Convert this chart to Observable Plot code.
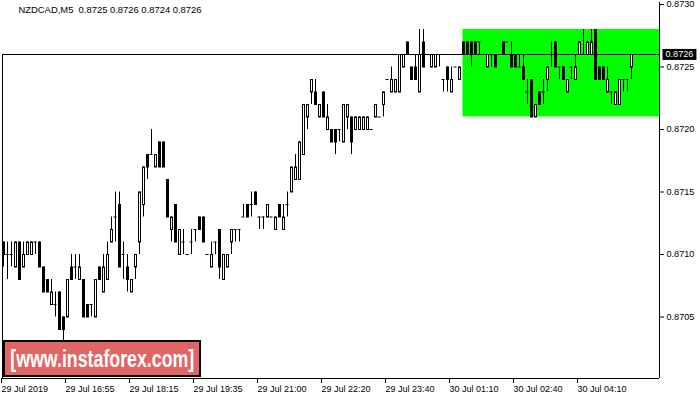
<!DOCTYPE html>
<html><head><meta charset="utf-8">
<script src="https://cdn.jsdelivr.net/npm/d3@7"></script>
<script src="https://cdn.jsdelivr.net/npm/@observablehq/plot@0.6"></script>
<style>
html,body{margin:0;padding:0;background:#fff;}
#wrap{position:relative;width:700px;height:400px;overflow:hidden;}
#chart svg{display:block;}
#wm{position:absolute;left:3px;top:340px;width:198px;height:37px;box-sizing:border-box;border:2px solid #000;background:#e06666;color:#fff;font:bold 24px "Liberation Sans",Arial,sans-serif;display:flex;align-items:center;justify-content:center;overflow:hidden;white-space:nowrap;}
#wm span{display:inline-block;transform:scaleX(0.74);}
</style></head><body>
<div id="wrap"><div id="chart"></div><div id="wm"><span>[www.instaforex.com]</span></div></div>
<script>
const symbol = "NZDCAD,M5";
const opens = [0.8711,0.8710,0.8710,0.8709,0.8711,0.8709,0.8710,0.8710,0.8711,0.8711,
0.8709,0.8708,0.8706,0.8706,0.8707,0.8705,0.8705,0.8709,0.8709,0.8708,
0.8708,0.8706,0.8706,0.8705,0.8709,0.8707,0.8708,0.8711,0.8713,0.8714,
0.8710,0.8709,0.8707,0.8709,0.8711,0.8714,0.8718,0.8718,0.8717,0.8719,
0.8719,0.8716,0.8712,0.8714,0.8710,0.8711,0.8710,0.8711,0.8712,0.8713,
0.8713,0.8710,0.8709,0.8711,0.8712,0.8708,0.8709,0.8711,0.8712,0.8712,
0.8713,0.8714,0.8714,0.8715,0.8713,0.8713,0.8713,0.8713,0.8712,0.8714,
0.8712,0.8714,0.8715,0.8716,0.8716,0.8718,0.8721,0.8723,0.8723,0.8721,
0.8723,0.8720,0.8720,0.8720,0.8720,0.8719,0.8721,0.8721,0.8720,0.8720,
0.8720,0.8720,0.8720,0.8721,0.8721,0.8722,0.8724,0.8723,0.8723,0.8723,
0.8725,0.8727,0.8725,0.8725,0.8723,0.8727,0.8726,0.8725,0.8725,0.8726,
0.8724,0.8725,0.8723,0.8725,0.8724,0.8727,0.8727,0.8727,0.8727,0.8727,
0.8726,0.8725,0.8726,0.8726,0.8726,0.8727,0.8727,0.8726,0.8726,0.8725,
0.8725,0.8723,0.8724,0.8721,0.8723,0.8723,0.8724,0.8726,0.8727,0.8725,
0.8725,0.8723,0.8725,0.8724,0.8726,0.8726,0.8726,0.8726,0.8728,0.8725,
0.8725,0.8723,0.8723,0.8722,0.8722,0.8724,0.8724,0.8725];
const highs = [0.8711,0.8711,0.8711,0.8711,0.8711,0.8711,0.8711,0.8711,0.8711,0.8711,
0.8709,0.8708,0.8708,0.8707,0.8707,0.8705,0.8708,0.8710,0.8710,0.8710,
0.8708,0.8706,0.8706,0.8708,0.8709,0.8710,0.8711,0.8713,0.8715,0.8715,
0.8711,0.8710,0.8708,0.8710,0.8715,0.8717,0.8718,0.8720,0.8718,0.8719,
0.8719,0.8716,0.8713,0.8714,0.8712,0.8712,0.8710,0.8712,0.8712,0.8713,
0.8713,0.8710,0.8711,0.8711,0.8712,0.8710,0.8710,0.8712,0.8712,0.8712,
0.8714,0.8714,0.8715,0.8715,0.8713,0.8713,0.8714,0.8713,0.8713,0.8714,
0.8714,0.8715,0.8717,0.8718,0.8719,0.8722,0.8722,0.8724,0.8724,0.8722,
0.8723,0.8722,0.8720,0.8720,0.8720,0.8722,0.8722,0.8721,0.8721,0.8721,
0.8721,0.8721,0.8720,0.8722,0.8721,0.8723,0.8724,0.8725,0.8724,0.8726,
0.8726,0.8727,0.8725,0.8726,0.8728,0.8728,0.8726,0.8726,0.8726,0.8726,
0.8724,0.8725,0.8725,0.8725,0.8725,0.8727,0.8727,0.8727,0.8727,0.8727,
0.8726,0.8726,0.8726,0.8726,0.8726,0.8727,0.8727,0.8727,0.8726,0.8726,
0.8726,0.8724,0.8724,0.8722,0.8723,0.8724,0.8725,0.8727,0.8727,0.8725,
0.8725,0.8724,0.8725,0.8726,0.8727,0.8728,0.8727,0.8728,0.8728,0.8725,
0.8725,0.8725,0.8723,0.8723,0.8724,0.8724,0.8724,0.8726];
const lows = [0.8709,0.8708,0.8709,0.8709,0.8708,0.8709,0.8710,0.8710,0.8710,0.8709,
0.8707,0.8707,0.8706,0.8705,0.8704,0.8703,0.8705,0.8708,0.8708,0.8708,
0.8705,0.8705,0.8705,0.8705,0.8708,0.8707,0.8708,0.8711,0.8711,0.8709,
0.8708,0.8707,0.8707,0.8708,0.8710,0.8713,0.8716,0.8718,0.8717,0.8717,
0.8717,0.8713,0.8711,0.8711,0.8710,0.8710,0.8710,0.8710,0.8711,0.8712,
0.8711,0.8710,0.8709,0.8710,0.8708,0.8708,0.8709,0.8710,0.8711,0.8711,
0.8713,0.8713,0.8713,0.8714,0.8712,0.8712,0.8713,0.8713,0.8712,0.8713,
0.8712,0.8713,0.8715,0.8716,0.8716,0.8718,0.8720,0.8722,0.8722,0.8721,
0.8721,0.8720,0.8719,0.8718,0.8719,0.8719,0.8720,0.8718,0.8720,0.8720,
0.8720,0.8720,0.8720,0.8721,0.8721,0.8721,0.8724,0.8723,0.8723,0.8723,
0.8725,0.8726,0.8724,0.8724,0.8723,0.8725,0.8726,0.8725,0.8725,0.8725,
0.8723,0.8723,0.8723,0.8725,0.8724,0.8726,0.8726,0.8725,0.8726,0.8726,
0.8726,0.8725,0.8725,0.8725,0.8726,0.8726,0.8727,0.8725,0.8725,0.8725,
0.8724,0.8722,0.8721,0.8721,0.8722,0.8722,0.8723,0.8725,0.8725,0.8724,
0.8724,0.8723,0.8724,0.8724,0.8726,0.8726,0.8726,0.8726,0.8724,0.8724,
0.8724,0.8723,0.8722,0.8722,0.8722,0.8723,0.8723,0.8724];
const closes = [0.8710,0.8710,0.8710,0.8711,0.8708,0.8710,0.8711,0.8711,0.8711,0.8709,
0.8707,0.8707,0.8707,0.8706,0.8704,0.8704,0.8708,0.8708,0.8709,0.8709,
0.8705,0.8705,0.8706,0.8708,0.8708,0.8709,0.8710,0.8712,0.8713,0.8709,
0.8710,0.8708,0.8708,0.8710,0.8715,0.8717,0.8717,0.8718,0.8718,0.8717,
0.8717,0.8713,0.8713,0.8711,0.8712,0.8711,0.8710,0.8711,0.8712,0.8712,
0.8711,0.8710,0.8710,0.8711,0.8709,0.8710,0.8710,0.8712,0.8712,0.8712,
0.8713,0.8713,0.8714,0.8714,0.8713,0.8713,0.8714,0.8713,0.8713,0.8713,
0.8713,0.8714,0.8717,0.8717,0.8719,0.8722,0.8722,0.8724,0.8722,0.8722,
0.8721,0.8721,0.8719,0.8719,0.8720,0.8722,0.8722,0.8719,0.8721,0.8721,
0.8721,0.8721,0.8720,0.8722,0.8721,0.8723,0.8724,0.8724,0.8724,0.8726,
0.8726,0.8726,0.8724,0.8724,0.8726,0.8725,0.8726,0.8726,0.8726,0.8726,
0.8724,0.8724,0.8724,0.8725,0.8725,0.8726,0.8726,0.8726,0.8726,0.8727,
0.8726,0.8726,0.8726,0.8725,0.8726,0.8726,0.8727,0.8725,0.8725,0.8725,
0.8724,0.8723,0.8721,0.8722,0.8722,0.8723,0.8725,0.8726,0.8725,0.8725,
0.8724,0.8724,0.8725,0.8725,0.8727,0.8726,0.8727,0.8727,0.8724,0.8724,
0.8724,0.8724,0.8723,0.8723,0.8724,0.8724,0.8724,0.8726];
const xTickIndex = [0,16,32,48,64,80,96,112,128,144];
const xTickLabels = ["29 Jul 2019","29 Jul 16:55","29 Jul 18:15","29 Jul 19:35","29 Jul 21:00","29 Jul 22:20","29 Jul 23:40","30 Jul 01:10","30 Jul 02:40","30 Jul 04:10"];
const yTicks = [0.8705,0.8710,0.8715,0.8720,0.8725,0.8730];
const zoneStart = 115;
const zoneLow = 0.8721;
const zoneHigh = 0.8728;
const xDomain = [-0.25, 164];
const yDomain = [0.870008, 0.873016];

const fmt = d3.format(".4f");
const candles = opens.map((o, i) => ({i, o, h: highs[i], l: lows[i], c: closes[i]}));
const bodies = candles.filter(d => d.o !== d.c);
const dojis = candles.filter(d => d.o === d.c);
const last = candles[candles.length - 1];
const title = `${symbol}\u00a0\u00a0${fmt(last.o)} ${fmt(last.h)} ${fmt(last.l)} ${fmt(last.c)}`;
const zone = [{start: zoneStart, low: zoneLow, high: zoneHigh}];
const FS = 9.5;

const plot = Plot.plot({
  width: 700, height: 400,
  marginLeft: 2, marginRight: 41, marginTop: 2, marginBottom: 22,
  x: {domain: xDomain},
  y: {domain: yDomain},
  style: {fontFamily: '"Liberation Sans", Arial, sans-serif', fontSize: "9.5px", color: "#000", background: "#fff"},
  marks: [
    Plot.rect(zone, {x1: d => d.start - 0.125, x2: () => xDomain[1], y1: "low", y2: "high", fill: "#00ff00"}),
    Plot.ruleY([last.c], {stroke: "#000"}),
    Plot.ruleX(candles, {x: "i", y1: "l", y2: "h", stroke: "#000"}),
    Plot.rect(bodies, {x1: d => d.i - 0.25, x2: d => d.i + 0.25, y1: "o", y2: "c", dx: 0.5, dy: 0.5,
      fill: d => d.c > d.o ? "#fff" : "#000", stroke: "#000"}),
    Plot.ruleY(dojis, {y: "o", x1: d => d.i - 0.375, x2: d => d.i + 0.375, stroke: "#000"}),
    Plot.ruleX([xDomain[1]], {stroke: "#000"}),
    Plot.ruleY([yDomain[0]], {stroke: "#000"}),
    Plot.ruleX([xDomain[0]], {y1: yDomain[0], y2: last.c, stroke: "#000"}),
    Plot.axisY({anchor: "right", ticks: yTicks, tickFormat: fmt, tickSize: 4, tickPadding: 3, label: null, fontSize: FS}),
    Plot.axisX({ticks: xTickIndex, tickFormat: d => xTickLabels[xTickIndex.indexOf(d)], tickSize: 5, tickPadding: 2, textAnchor: "start", dx: -2, label: null, fontSize: FS}),
    Plot.text([title], {text: d => d, frameAnchor: "top-left", dx: 16, dy: 4, textAnchor: "start", lineAnchor: "top", fill: "#000", fontSize: FS, className: "ttl"}),
    Plot.text([last.c], {y: d => d, text: d => fmt(d), frameAnchor: "right", dx: 6, textAnchor: "start", fill: "#fff", fontSize: FS, className: "pricelabel"})
  ]
});
document.getElementById("chart").appendChild(plot);

// fit text sizes to the reference's measured text widths
function fitGroup(texts, sampleIdx, targetWidth) {
  const arr = Array.from(texts);
  if (!arr.length) return;
  const s = arr[Math.min(sampleIdx, arr.length - 1)];
  const w = s.getComputedTextLength();
  if (!w) return;
  const fs = parseFloat(getComputedStyle(s).fontSize) * targetWidth / w;
  arr.forEach(t => t.setAttribute("font-size", fs.toFixed(2)));
}
fitGroup(plot.querySelectorAll("g.ttl text"), 0, 183);
fitGroup(plot.querySelectorAll('g[aria-label="x-axis tick label"] text'), 1, 49);
fitGroup(plot.querySelectorAll('g[aria-label="y-axis tick label"] text'), 0, 28);
fitGroup(plot.querySelectorAll("g.pricelabel text"), 0, 28);

// black background behind the current price label
const lbl = plot.querySelector("g.pricelabel text");
if (lbl) {
  const bb = lbl.getBBox();
  const r = document.createElementNS("http://www.w3.org/2000/svg", "rect");
  r.setAttribute("x", bb.x - 3); r.setAttribute("y", bb.y - 0.5);
  r.setAttribute("width", bb.width + 6); r.setAttribute("height", bb.height + 1);
  r.setAttribute("fill", "#000");
  const tr = lbl.getAttribute("transform");
  if (tr) r.setAttribute("transform", tr);
  lbl.parentNode.insertBefore(r, lbl);
}
</script>
</body></html>
